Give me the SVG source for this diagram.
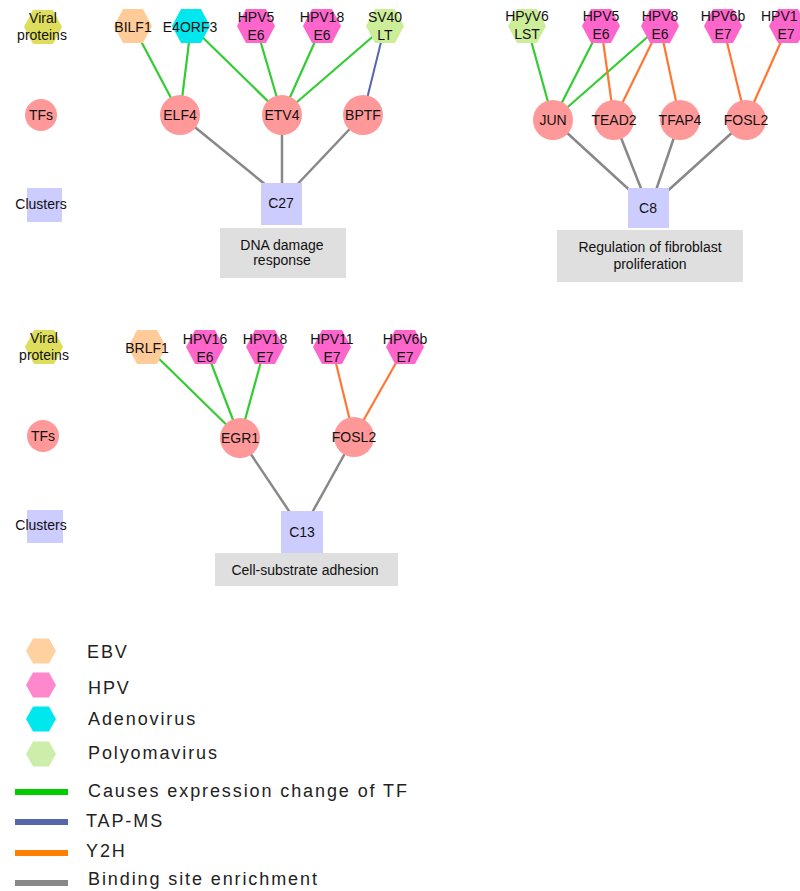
<svg xmlns="http://www.w3.org/2000/svg" xmlns:xlink="http://www.w3.org/1999/xlink" width="800" height="891" viewBox="0 0 800 891">
<style>
text{font-family:"Liberation Sans",Arial,sans-serif;font-size:14px;fill:#111;text-anchor:middle}
.lg{font-size:18px;text-anchor:start;letter-spacing:1.9px;fill:#222}
.ebv{fill:#ffcc99}.hpv{fill:#ff66cc}.ade{fill:#00e8ee}.pol{fill:#ccee99}.vir{fill:#dede5c}
.tf{fill:#ff9999}.cl{fill:#ccccff}.box{fill:#dfdfdf}
.g{stroke:#33cc33;stroke-width:2.2}.b{stroke:#5566aa;stroke-width:2}.o{stroke:#ff7733;stroke-width:2.2}.k{stroke:#888;stroke-width:2.5}
.lhpv{fill:#ff88cc}.lebv{fill:#ffd0a0}.lpol{fill:#cceeaa}
</style>
<defs>
<path id="hex" d="M-19,0 L-10,-17 L10,-17 L19,0 L10,17 L-10,17 Z"/>
<path id="lhex" d="M-15,0 L-8,-12.5 L8,-12.5 L15,0 L8,12.5 L-8,12.5 Z"/>
</defs>

<g id="connectors">
<line class="g" x1="133" y1="26" x2="180" y2="115"/>
<line class="g" x1="191" y1="26" x2="180" y2="115"/>
<line class="g" x1="191" y1="26" x2="282" y2="115"/>
<line class="g" x1="256" y1="26" x2="282" y2="115"/>
<line class="g" x1="322" y1="26" x2="282" y2="115"/>
<line class="g" x1="385" y1="26" x2="282" y2="115"/>
<line class="b" x1="385" y1="26" x2="363" y2="115"/>
<line class="k" x1="180" y1="115" x2="272" y2="190"/>
<line class="k" x1="282" y1="115" x2="282" y2="190"/>
<line class="k" x1="363" y1="115" x2="292" y2="190"/>

<line class="g" x1="527" y1="26" x2="553" y2="120"/>
<line class="g" x1="601" y1="26" x2="553" y2="120"/>
<line class="g" x1="660" y1="26" x2="553" y2="120"/>
<line class="o" x1="601" y1="26" x2="614" y2="120"/>
<line class="o" x1="660" y1="26" x2="614" y2="120"/>
<line class="o" x1="660" y1="26" x2="680" y2="120"/>
<line class="o" x1="723" y1="26" x2="746" y2="120"/>
<line class="o" x1="788" y1="26" x2="746" y2="120"/>
<line class="k" x1="553" y1="120" x2="636" y2="196"/>
<line class="k" x1="614" y1="120" x2="644" y2="196"/>
<line class="k" x1="680" y1="120" x2="654" y2="196"/>
<line class="k" x1="746" y1="120" x2="662" y2="196"/>

<line class="g" x1="147" y1="347" x2="240" y2="438"/>
<line class="g" x1="205" y1="347" x2="240" y2="438"/>
<line class="g" x1="265" y1="347" x2="240" y2="438"/>
<line class="o" x1="332" y1="347" x2="354" y2="437"/>
<line class="o" x1="405" y1="347" x2="354" y2="437"/>
<line class="k" x1="240" y1="438" x2="295" y2="520"/>
<line class="k" x1="354" y1="437" x2="308" y2="520"/>
</g>

<g id="legend-rows-top">
<use href="#hex" class="vir" transform="translate(43,27)"/>
<text x="43" y="23">Viral</text><text x="42" y="40">proteins</text>
<circle class="tf" cx="41" cy="115" r="16"/><text x="41" y="120">TFs</text>
<rect class="cl" x="27" y="188" width="35" height="34"/><text x="41" y="209">Clusters</text>
</g>

<g id="BILF1"><use href="#hex" class="ebv" transform="translate(133,26)"/><text x="133" y="32">BILF1</text></g>
<g id="E4ORF3"><use href="#hex" class="ade" transform="translate(191,26)"/><text x="190" y="32">E4ORF3</text></g>
<g id="HPV5E6a"><use href="#hex" class="hpv" transform="translate(256,26)"/><text x="256" y="22">HPV5</text><text x="256" y="40">E6</text></g>
<g id="HPV18E6"><use href="#hex" class="hpv" transform="translate(322,26)"/><text x="322" y="22">HPV18</text><text x="322" y="40">E6</text></g>
<g id="SV40LT"><use href="#hex" class="pol" transform="translate(385,26)"/><text x="385" y="22">SV40</text><text x="385" y="40">LT</text></g>
<g id="ELF4"><circle class="tf" cx="180" cy="115" r="20"/><text x="180" y="120">ELF4</text></g>
<g id="ETV4"><circle class="tf" cx="282" cy="115" r="20"/><text x="282" y="120">ETV4</text></g>
<g id="BPTF"><circle class="tf" cx="363" cy="115" r="20"/><text x="363" y="120">BPTF</text></g>
<g id="C27"><rect class="cl" x="261" y="183" width="41" height="42"/><text x="281" y="208">C27</text></g>
<g id="DNA-damage"><rect class="box" x="220" y="228" width="126" height="50"/><text x="282" y="250">DNA damage</text><text x="282" y="265">response</text></g>

<g id="HPyV6LST"><use href="#hex" class="pol" transform="translate(527,26)"/><text x="527" y="21">HPyV6</text><text x="527" y="39">LST</text></g>
<g id="HPV5E6b"><use href="#hex" class="hpv" transform="translate(601,26)"/><text x="601" y="21">HPV5</text><text x="601" y="39">E6</text></g>
<g id="HPV8E6"><use href="#hex" class="hpv" transform="translate(660,26)"/><text x="660" y="21">HPV8</text><text x="660" y="39">E6</text></g>
<g id="HPV6bE7a"><use href="#hex" class="hpv" transform="translate(723,26)"/><text x="723" y="21">HPV6b</text><text x="723" y="39">E7</text></g>
<g id="HPV1E7"><use href="#hex" class="hpv" transform="translate(788,26)"/><text x="761" y="21" style="text-anchor:start">HPV1</text><text x="786" y="39">E7</text></g>
<g id="JUN"><circle class="tf" cx="553" cy="120" r="20"/><text x="553" y="125">JUN</text></g>
<g id="TEAD2"><circle class="tf" cx="614" cy="120" r="20"/><text x="614" y="125">TEAD2</text></g>
<g id="TFAP4"><circle class="tf" cx="680" cy="120" r="20"/><text x="680" y="125">TFAP4</text></g>
<g id="FOSL2a"><circle class="tf" cx="746" cy="120" r="20"/><text x="746" y="125">FOSL2</text></g>
<g id="C8"><rect class="cl" x="628" y="188" width="41" height="40"/><text x="648" y="213">C8</text></g>
<g id="fibroblast"><rect class="box" x="557" y="230" width="186" height="52"/><text x="650" y="252">Regulation of fibroblast</text><text x="650" y="269">proliferation</text></g>

<g id="legend-rows-bottom">
<use href="#hex" class="vir" transform="translate(44,347)"/>
<text x="44" y="343">Viral</text><text x="44" y="360">proteins</text>
<circle class="tf" cx="43" cy="436" r="16"/><text x="43" y="441">TFs</text>
<rect class="cl" x="27" y="510" width="36" height="33"/><text x="41" y="530">Clusters</text>
</g>

<g id="BRLF1"><use href="#hex" class="ebv" transform="translate(147,347)"/><text x="147" y="353">BRLF1</text></g>
<g id="HPV16E6"><use href="#hex" class="hpv" transform="translate(205,347)"/><text x="205" y="344">HPV16</text><text x="205" y="362">E6</text></g>
<g id="HPV18E7"><use href="#hex" class="hpv" transform="translate(265,347)"/><text x="265" y="344">HPV18</text><text x="265" y="362">E7</text></g>
<g id="HPV11E7"><use href="#hex" class="hpv" transform="translate(332,347)"/><text x="332" y="344">HPV11</text><text x="332" y="362">E7</text></g>
<g id="HPV6bE7b"><use href="#hex" class="hpv" transform="translate(405,347)"/><text x="405" y="344">HPV6b</text><text x="405" y="362">E7</text></g>
<g id="EGR1"><circle class="tf" cx="240" cy="438" r="20"/><text x="240" y="443">EGR1</text></g>
<g id="FOSL2b"><circle class="tf" cx="354" cy="437" r="20"/><text x="354" y="442">FOSL2</text></g>
<g id="C13"><rect class="cl" x="281" y="511" width="42" height="42"/><text x="302" y="537">C13</text></g>
<g id="adhesion"><rect class="box" x="215" y="553" width="183" height="33"/><text x="305" y="575">Cell-substrate adhesion</text></g>

<g id="legend">
<use href="#lhex" class="lebv" transform="translate(41,651)"/><text class="lg" x="87" y="658">EBV</text>
<use href="#lhex" class="lhpv" transform="translate(41,685)"/><text class="lg" x="88" y="694">HPV</text>
<use href="#lhex" class="ade" transform="translate(41,719)"/><text class="lg" x="88" y="725">Adenovirus</text>
<use href="#lhex" class="lpol" transform="translate(41,754)"/><text class="lg" x="88" y="759">Polyomavirus</text>
<line x1="15" y1="792" x2="68" y2="792" stroke="#00cc00" stroke-width="6"/><text class="lg" x="88" y="797">Causes expression change of TF</text>
<line x1="15" y1="822" x2="68" y2="822" stroke="#5566aa" stroke-width="6"/><text class="lg" x="86" y="827">TAP-MS</text>
<line x1="15" y1="853" x2="68" y2="853" stroke="#ff7f00" stroke-width="6"/><text class="lg" x="86" y="857">Y2H</text>
<line x1="15" y1="883" x2="68" y2="883" stroke="#888" stroke-width="6"/><text class="lg" x="88" y="885">Binding site enrichment</text>
</g>
</svg>
